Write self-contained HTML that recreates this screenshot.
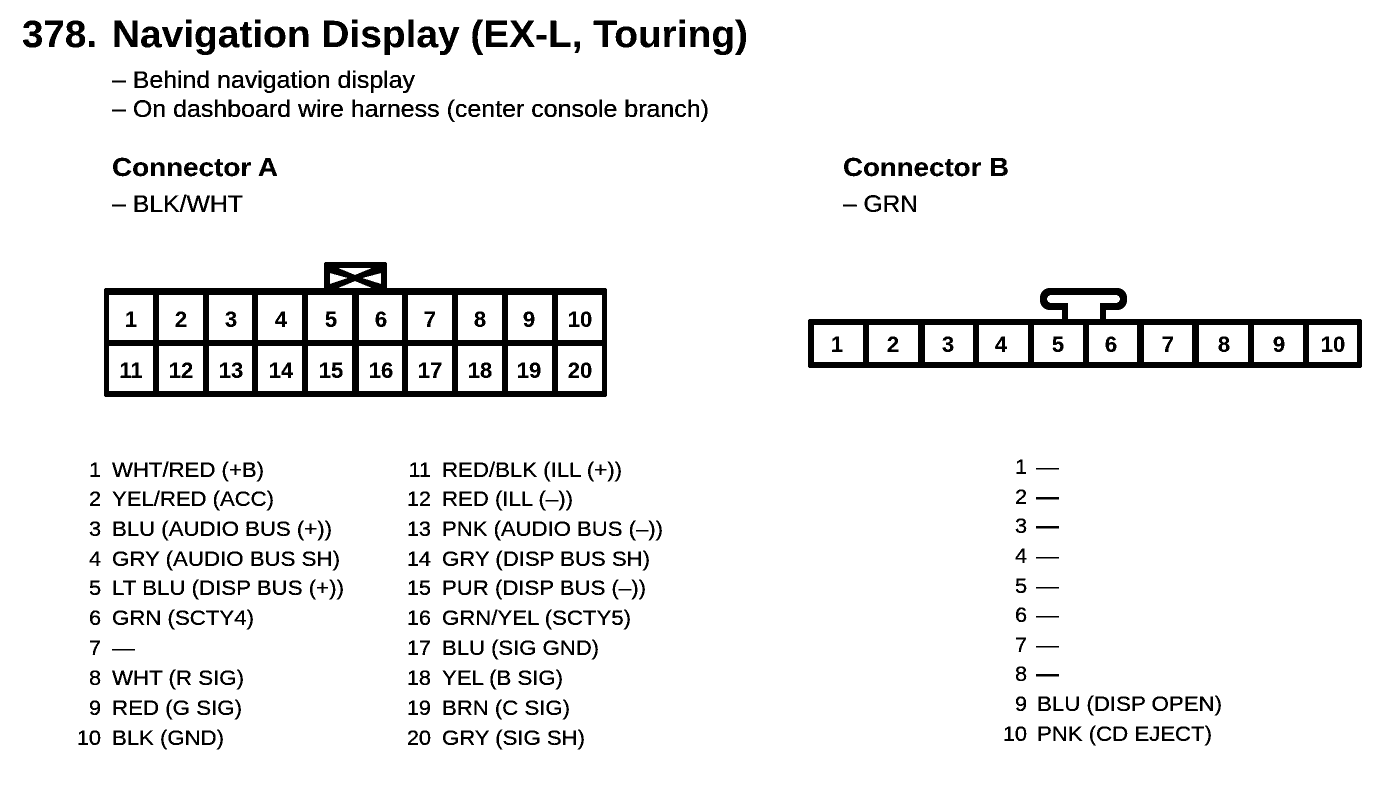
<!DOCTYPE html>
<html><head><meta charset="utf-8"><style>
html,body{margin:0;padding:0;background:#fff}
svg{display:block}
text{font-family:"Liberation Sans",sans-serif;fill:#000}
.t{font-size:38px;font-weight:bold}
.s{font-size:24px;stroke:#000;stroke-width:.15}
.h{font-size:26px;font-weight:bold}
.l{font-size:21.7px;stroke:#000;stroke-width:.15}
.d{font-weight:bold}
.n{font-size:21.7px;text-anchor:end;stroke:#000;stroke-width:.15}
.c{font-size:22px;font-weight:bold;text-anchor:middle}
</style></head><body>
<svg width="1392" height="796" viewBox="0 0 1392 796" xmlns="http://www.w3.org/2000/svg">
<defs><filter id="b" x="0" y="0" width="100%" height="100%" color-interpolation-filters="sRGB"><feComponentTransfer><feFuncR type="discrete" tableValues="0 0 1"/><feFuncG type="discrete" tableValues="0 0 1"/><feFuncB type="discrete" tableValues="0 0 1"/></feComponentTransfer></filter></defs>
<g filter="url(#b)">
<rect width="1392" height="796" fill="#fff"/>
<text class="t" x="22" y="47" textLength="75" lengthAdjust="spacingAndGlyphs">378.</text>
<text class="t" x="112" y="47" textLength="636" lengthAdjust="spacingAndGlyphs">Navigation Display (EX-L, Touring)</text>
<text class="s" x="112" y="88" textLength="303" lengthAdjust="spacingAndGlyphs">– Behind navigation display</text>
<text class="s" x="112" y="117" textLength="597" lengthAdjust="spacingAndGlyphs">– On dashboard wire harness (center console branch)</text>
<text class="h" x="112" y="176" textLength="166" lengthAdjust="spacingAndGlyphs">Connector A</text>
<text class="s" x="112" y="212" textLength="131" lengthAdjust="spacingAndGlyphs">– BLK/WHT</text>
<text class="h" x="843" y="176" textLength="166" lengthAdjust="spacingAndGlyphs">Connector B</text>
<text class="s" x="843" y="212" textLength="75" lengthAdjust="spacingAndGlyphs">– GRN</text>

<!-- Connector A -->
<path d="M324 288V264q0-2 2-2H385q2 0 2 2V288Z" fill="#000"/>
<g fill="#fff">
<polygon points="338,268 372,268 355,275"/>
<polygon points="338,288 372,288 355,281"/>
<polygon points="330,273 348,278 330,284"/>
<polygon points="381,273 362,278 381,284"/>
</g>
<rect x="104" y="288" width="503" height="109" rx="2" fill="#000"/>
<g fill="#fff">
<rect x="109" y="295" width="44" height="45"/><rect x="159" y="295" width="44" height="45"/><rect x="209" y="295" width="43" height="45"/><rect x="258" y="295" width="44" height="45"/><rect x="308" y="295" width="44" height="45"/><rect x="359" y="295" width="43" height="45"/><rect x="408" y="295" width="44" height="45"/><rect x="458" y="295" width="44" height="45"/><rect x="508" y="295" width="44" height="45"/><rect x="558" y="295" width="44" height="45"/>
<rect x="109" y="346" width="44" height="45"/><rect x="159" y="346" width="44" height="45"/><rect x="209" y="346" width="43" height="45"/><rect x="258" y="346" width="44" height="45"/><rect x="308" y="346" width="44" height="45"/><rect x="359" y="346" width="43" height="45"/><rect x="408" y="346" width="44" height="45"/><rect x="458" y="346" width="44" height="45"/><rect x="508" y="346" width="44" height="45"/><rect x="558" y="346" width="44" height="45"/>
</g>
<text class="c" x="131" y="327">1</text><text class="c" x="181" y="327">2</text><text class="c" x="231" y="327">3</text><text class="c" x="281" y="327">4</text><text class="c" x="331" y="327">5</text><text class="c" x="381" y="327">6</text><text class="c" x="430" y="327">7</text><text class="c" x="480" y="327">8</text><text class="c" x="529" y="327">9</text><text class="c" x="580" y="327">10</text>
<text class="c" x="131" y="378">11</text><text class="c" x="181" y="378">12</text><text class="c" x="231" y="378">13</text><text class="c" x="281" y="378">14</text><text class="c" x="331" y="378">15</text><text class="c" x="381" y="378">16</text><text class="c" x="430" y="378">17</text><text class="c" x="480" y="378">18</text><text class="c" x="529" y="378">19</text><text class="c" x="580" y="378">20</text>

<!-- Connector B -->
<rect x="1040" y="288" width="87" height="22" rx="10" fill="#000"/>
<rect x="1062" y="300" width="44" height="20" fill="#000"/>
<rect x="1047" y="295" width="73" height="8" rx="4" fill="#fff"/>
<rect x="1068" y="300" width="32" height="20" fill="#fff"/>
<rect x="808" y="319" width="554" height="49" rx="2" fill="#000"/>
<g fill="#fff">
<rect x="814" y="325" width="49" height="37"/><rect x="869" y="325" width="49" height="37"/><rect x="925" y="325" width="48" height="37"/><rect x="979" y="325" width="49" height="37"/><rect x="1034" y="325" width="49" height="37"/><rect x="1089" y="325" width="48" height="37"/><rect x="1144" y="325" width="48" height="37"/><rect x="1199" y="325" width="49" height="37"/><rect x="1254" y="325" width="49" height="37"/><rect x="1309" y="325" width="48" height="37"/>
</g>
<text class="c" x="837" y="352">1</text><text class="c" x="893" y="352">2</text><text class="c" x="948" y="352">3</text><text class="c" x="1001" y="352">4</text><text class="c" x="1058" y="352">5</text><text class="c" x="1111" y="352">6</text><text class="c" x="1168" y="352">7</text><text class="c" x="1224" y="352">8</text><text class="c" x="1279" y="352">9</text><text class="c" x="1333" y="352">10</text>

<!-- Pin list A column 1 -->
<text class="n" x="101" y="477">1</text><text class="l" x="112" y="477" textLength="152" lengthAdjust="spacingAndGlyphs">WHT/RED (+B)</text>
<text class="n" x="101" y="506">2</text><text class="l" x="112" y="506" textLength="162" lengthAdjust="spacingAndGlyphs">YEL/RED (ACC)</text>
<text class="n" x="101" y="536">3</text><text class="l" x="112" y="536" textLength="220" lengthAdjust="spacingAndGlyphs">BLU (AUDIO BUS (+))</text>
<text class="n" x="101" y="566">4</text><text class="l" x="112" y="566" textLength="228" lengthAdjust="spacingAndGlyphs">GRY (AUDIO BUS SH)</text>
<text class="n" x="101" y="595">5</text><text class="l" x="112" y="595" textLength="232" lengthAdjust="spacingAndGlyphs">LT BLU (DISP BUS (+))</text>
<text class="n" x="101" y="625">6</text><text class="l" x="112" y="625" textLength="142" lengthAdjust="spacingAndGlyphs">GRN (SCTY4)</text>
<text class="n" x="101" y="655">7</text><text class="l" x="112" y="655" textLength="23" lengthAdjust="spacingAndGlyphs">—</text>
<text class="n" x="101" y="685">8</text><text class="l" x="112" y="685" textLength="132" lengthAdjust="spacingAndGlyphs">WHT (R SIG)</text>
<text class="n" x="101" y="715">9</text><text class="l" x="112" y="715" textLength="130" lengthAdjust="spacingAndGlyphs">RED (G SIG)</text>
<text class="n" x="101" y="745">10</text><text class="l" x="112" y="745" textLength="112" lengthAdjust="spacingAndGlyphs">BLK (GND)</text>

<!-- Pin list A column 2 -->
<text class="n" x="431" y="477">11</text><text class="l" x="442" y="477" textLength="180" lengthAdjust="spacingAndGlyphs">RED/BLK (ILL (+))</text>
<text class="n" x="431" y="506">12</text><text class="l" x="442" y="506" textLength="131" lengthAdjust="spacingAndGlyphs">RED (ILL (–))</text>
<text class="n" x="431" y="536">13</text><text class="l" x="442" y="536" textLength="221" lengthAdjust="spacingAndGlyphs">PNK (AUDIO BUS (–))</text>
<text class="n" x="431" y="566">14</text><text class="l" x="442" y="566" textLength="208" lengthAdjust="spacingAndGlyphs">GRY (DISP BUS SH)</text>
<text class="n" x="431" y="595">15</text><text class="l" x="442" y="595" textLength="204" lengthAdjust="spacingAndGlyphs">PUR (DISP BUS (–))</text>
<text class="n" x="431" y="625">16</text><text class="l" x="442" y="625" textLength="189" lengthAdjust="spacingAndGlyphs">GRN/YEL (SCTY5)</text>
<text class="n" x="431" y="655">17</text><text class="l" x="442" y="655" textLength="157" lengthAdjust="spacingAndGlyphs">BLU (SIG GND)</text>
<text class="n" x="431" y="685">18</text><text class="l" x="442" y="685" textLength="121" lengthAdjust="spacingAndGlyphs">YEL (B SIG)</text>
<text class="n" x="431" y="715">19</text><text class="l" x="442" y="715" textLength="128" lengthAdjust="spacingAndGlyphs">BRN (C SIG)</text>
<text class="n" x="431" y="745">20</text><text class="l" x="442" y="745" textLength="143" lengthAdjust="spacingAndGlyphs">GRY (SIG SH)</text>

<!-- Pin list B -->
<text class="n" x="1027" y="474">1</text><text class="l" x="1036" y="474" textLength="23" lengthAdjust="spacingAndGlyphs">—</text>
<text class="n" x="1027" y="504">2</text><text class="l d" x="1036" y="504" textLength="23" lengthAdjust="spacingAndGlyphs">—</text>
<text class="n" x="1027" y="533">3</text><text class="l d" x="1036" y="533" textLength="23" lengthAdjust="spacingAndGlyphs">—</text>
<text class="n" x="1027" y="563">4</text><text class="l" x="1036" y="563" textLength="23" lengthAdjust="spacingAndGlyphs">—</text>
<text class="n" x="1027" y="593">5</text><text class="l" x="1036" y="593" textLength="23" lengthAdjust="spacingAndGlyphs">—</text>
<text class="n" x="1027" y="622">6</text><text class="l" x="1036" y="622" textLength="23" lengthAdjust="spacingAndGlyphs">—</text>
<text class="n" x="1027" y="652">7</text><text class="l" x="1036" y="652" textLength="23" lengthAdjust="spacingAndGlyphs">—</text>
<text class="n" x="1027" y="681">8</text><text class="l d" x="1036" y="681" textLength="23" lengthAdjust="spacingAndGlyphs">—</text>
<text class="n" x="1027" y="711">9</text><text class="l" x="1037" y="711" textLength="185" lengthAdjust="spacingAndGlyphs">BLU (DISP OPEN)</text>
<text class="n" x="1027" y="741">10</text><text class="l" x="1037" y="741" textLength="175" lengthAdjust="spacingAndGlyphs">PNK (CD EJECT)</text>
</g>
</svg>
</body></html>
